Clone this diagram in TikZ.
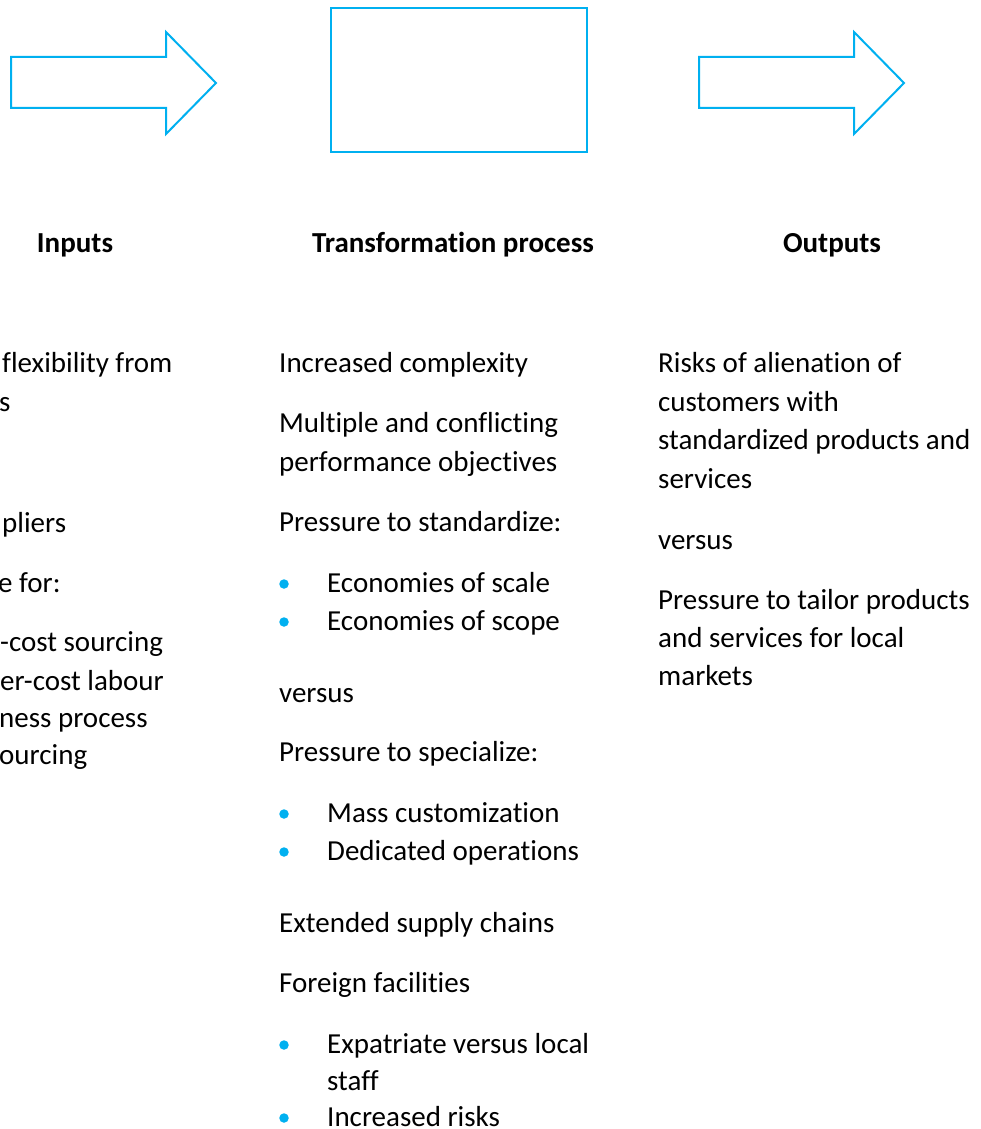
\documentclass[tikz,border=0pt]{standalone}
\usepackage{fontspec}
\setmainfont{Carlito}[Ligatures={NoCommon,NoContextual}]
\definecolor{flowblue}{HTML}{00B0F0}
\tikzset{
  shapeline/.style={draw=flowblue, line width=2pt, line join=miter},
  txt/.style={anchor=base west, inner sep=0pt, font=\fontsize{29}{35}\selectfont},
  head/.style={anchor=base, inner sep=0pt, font=\fontsize{29}{35}\selectfont\bfseries},
  dot/.style={circle, fill=flowblue, inner sep=0pt, minimum size=9.5pt},
}
\begin{document}
\begin{tikzpicture}[x=1pt, y=-1pt]
\useasboundingbox (0,0) rectangle (981,1129);
\clip (0,0) rectangle (981,1129);

% block arrows and the process box
\draw[shapeline] (11,57) -- (166,57) -- (166,32) -- (216,83) -- (166,134) -- (166,108) -- (11,108) -- cycle;
\draw[shapeline, line width=2.5pt] (331,8) rectangle (587,152);
\draw[shapeline] (699,57) -- (854,57) -- (854,32) -- (904,83) -- (854,134) -- (854,108) -- (699,108) -- cycle;

% column headings
\node[head] (hin) at (75,252) {Inputs};
\node[head] (hproc) at (453,252) {Transformation process};
\node[head] (hout) at (832,252) {Outputs};

% inputs column (runs off the left edge)
\node[txt] (i1) at (2,372) {flexibility from};
\node[txt] (i2) at (-1,411) {s};
\node[txt] (i3) at (2,532) {pliers};
\node[txt] (i4) at (-2,592) {e for:};
\node[txt] (i5) at (0,651) {-cost sourcing};
\node[txt] (i6) at (0,690) {er-cost labour};
\node[txt] (i7) at (-1,727) {ness process};
\node[txt] (i8) at (-1,764) {ourcing};

% transformation column
\node[txt] (p1) at (279,372) {Increased complexity};
\node[txt] (p2) at (279,432) {Multiple and conflicting};
\node[txt] (p3) at (279,471) {performance objectives};
\node[txt] (p4) at (279,531) {Pressure to standardize:};
\node[dot] (b1) at (284,584) {};
\node[txt] (p5) at (327,592) {Economies of scale};
\node[dot] (b2) at (284,622) {};
\node[txt] (p6) at (327,630) {Economies of scope};
\node[txt] (p7) at (279,702) {versus};
\node[txt] (p8) at (279,761) {Pressure to specialize:};
\node[dot] (b3) at (284,814) {};
\node[txt] (p9) at (327,822) {Mass customization};
\node[dot] (b4) at (284,852) {};
\node[txt] (p10) at (327,860) {Dedicated operations};
\node[txt] (p11) at (279,932) {Extended supply chains};
\node[txt] (p12) at (279,992) {Foreign facilities};
\node[dot] (b5) at (284,1045) {};
\node[txt] (p13) at (327,1053) {Expatriate versus local};
\node[txt] (p14) at (327,1090) {staff};
\node[dot] (b6) at (284,1118) {};
\node[txt] (p15) at (327,1126) {Increased risks};

% outputs column
\node[txt] (o1) at (658,372) {Risks of alienation of};
\node[txt] (o2) at (658,411) {customers with};
\node[txt] (o3) at (658,449) {standardized products and};
\node[txt] (o4) at (658,488) {services};
\node[txt] (o5) at (658,549) {versus};
\node[txt] (o6) at (658,609) {Pressure to tailor products};
\node[txt] (o7) at (658,647) {and services for local};
\node[txt] (o8) at (658,685) {markets};
\end{tikzpicture}
\end{document}
